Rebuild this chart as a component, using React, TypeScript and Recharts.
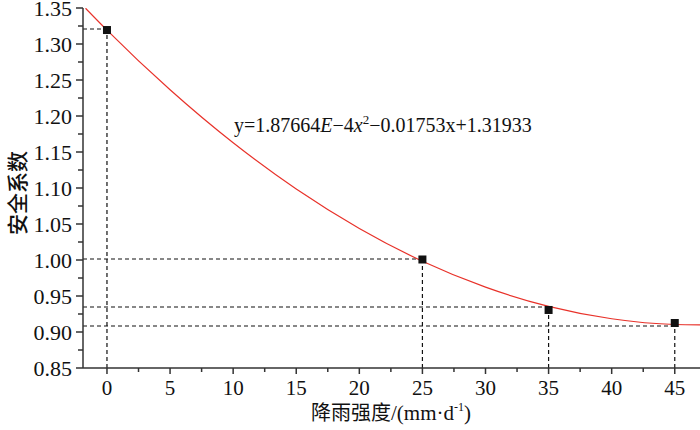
import React from 'react';
import { ComposedChart, Line, Scatter, XAxis, YAxis, ReferenceLine, Customized } from 'recharts';

// Measured points (rainfall intensity vs safety factor)
const pointX = [0, 25, 35, 45];
const pointY = [1.3194, 1.0007, 0.9306, 0.9125];
// Guide (dashed) levels
const guideY = [1.3208, 1.0014, 0.9347, 0.9083];
// Fitted curve
const fitX = [-1.7, 0, 5, 10, 15, 20, 25, 30, 35, 40, 45, 47];
const fitY = [1.3497, 1.3193, 1.2364, 1.1628, 1.0986, 1.0438, 0.9983, 0.9623, 0.9356, 0.9184, 0.9104, 0.9099];
const xTicks = [0, 2.5, 5, 7.5, 10, 12.5, 15, 17.5, 20, 22.5, 25, 27.5, 30, 32.5, 35, 37.5, 40, 42.5, 45];
const xMajor = [0, 5, 10, 15, 20, 25, 30, 35, 40, 45];
const yTicks = [0.85, 0.875, 0.9, 0.925, 0.95, 0.975, 1.0, 1.025, 1.05, 1.075, 1.1, 1.125, 1.15, 1.175, 1.2, 1.225, 1.25, 1.275, 1.3, 1.325, 1.35];
const yMajor = ['0.85', '0.90', '0.95', '1.00', '1.05', '1.10', '1.15', '1.20', '1.25', '1.30', '1.35'];

const points = pointX.map((x, i) => ({ x, y: pointY[i] }));
const fit = fitX.map((x, i) => ({ x, y: fitY[i] }));

const SERIF = '"Liberation Serif", "DejaVu Serif", serif';
const CJK = '"Noto Sans CJK SC", sans-serif';
const AXIS = '#333';

const XTick = (props: any) => {
  const { x, y, payload } = props;
  const v = payload.value;
  const major = xMajor.some((m) => Math.abs(m - v) < 1e-6);
  return (
    <g>
      <line x1={x} y1={y} x2={x} y2={y + (major ? 6 : 4)} stroke={AXIS} strokeWidth={1.5} />
      {major && (
        <text x={x} y={y + 27} textAnchor="middle" fontFamily={SERIF} fontSize={21} fill="#111">
          {String(v)}
        </text>
      )}
    </g>
  );
};

const YTick = (props: any) => {
  const { x, y, payload } = props;
  const v = payload.value;
  const lab = yMajor.find((m) => Math.abs(parseFloat(m) - v) < 1e-6);
  return (
    <g>
      <line x1={x} y1={y} x2={x - (lab ? 7 : 5)} y2={y} stroke={AXIS} strokeWidth={1.5} />
      {lab && (
        <text x={x - 11} y={y + 8} textAnchor="end" fontFamily={SERIF} fontSize={22} fill="#111">
          {lab}
        </text>
      )}
    </g>
  );
};

const Square = (props: any) => {
  const { cx, cy } = props;
  return <rect x={cx - 4} y={cy - 4} width={8} height={8} fill="#111" />;
};

const Extras = () => (
  <g>
    <text x={234} y={132} fontFamily={SERIF} fontSize={20} fill="#111">
      y=1.87664<tspan fontStyle="italic">E</tspan>−4<tspan fontStyle="italic">x</tspan>
      <tspan fontSize={13} dy={-8}>2</tspan>
      <tspan dy={8}>−0.01753x+1.31933</tspan>
    </text>
    <text x={0} y={0} transform="translate(25,193) rotate(-90)" textAnchor="middle" fontFamily={CJK} fontSize={21} fontWeight={500} fill="#111">
      安全系数
    </text>
    <text x={391} y={420} textAnchor="middle" fontFamily={CJK} fontSize={20} fill="#111">
      降雨强度
      <tspan fontFamily={SERIF} fontSize={21}>/(mm·d</tspan>
      <tspan fontFamily={SERIF} fontSize={12} dy={-9}>-1</tspan>
      <tspan fontFamily={SERIF} fontSize={21} dy={9}>)</tspan>
    </text>
  </g>
);

const dash = '4 3';

export default function App() {
  return (
    <div style={{ position: 'absolute', left: 0, top: 0, width: 700, height: 430, background: '#fff' }}>
      <ComposedChart width={700} height={430} margin={{ top: 8, right: 0, bottom: 0, left: 0 }}>
        <XAxis
          type="number"
          dataKey="x"
          domain={[-1.9, 47]}
          ticks={xTicks}
          interval={0}
          allowDataOverflow
          axisLine={{ stroke: AXIS, strokeWidth: 1.5 }}
          tickLine={false}
          tickSize={0}
          tickMargin={0}
          tick={<XTick />}
          height={62}
        />
        <YAxis
          type="number"
          dataKey="y"
          domain={[0.85, 1.35]}
          ticks={yTicks}
          interval={0}
          allowDataOverflow
          axisLine={{ stroke: AXIS, strokeWidth: 1.5 }}
          tickLine={false}
          tickSize={0}
          tickMargin={0}
          tick={<YTick />}
          width={83}
        />
        {pointX.map((px, i) => (
          <ReferenceLine
            key={'h' + i}
            segment={[{ x: -1.9, y: guideY[i] }, { x: px, y: guideY[i] }]}
            stroke="#111"
            strokeDasharray={dash}
            strokeWidth={1.2}
          />
        ))}
        {pointX.map((px, i) => (
          <ReferenceLine
            key={'v' + i}
            segment={[{ x: px, y: 0.85 }, { x: px, y: pointY[i] }]}
            stroke="#111"
            strokeDasharray={dash}
            strokeWidth={1.2}
          />
        ))}
        <Line
          data={fit}
          dataKey="y"
          type="monotone"
          stroke="#e8322a"
          strokeWidth={1.2}
          dot={false}
          isAnimationActive={false}
        />
        <Scatter data={points} dataKey="y" shape={<Square />} isAnimationActive={false} />
        <Customized component={Extras} />
      </ComposedChart>
    </div>
  );
}
